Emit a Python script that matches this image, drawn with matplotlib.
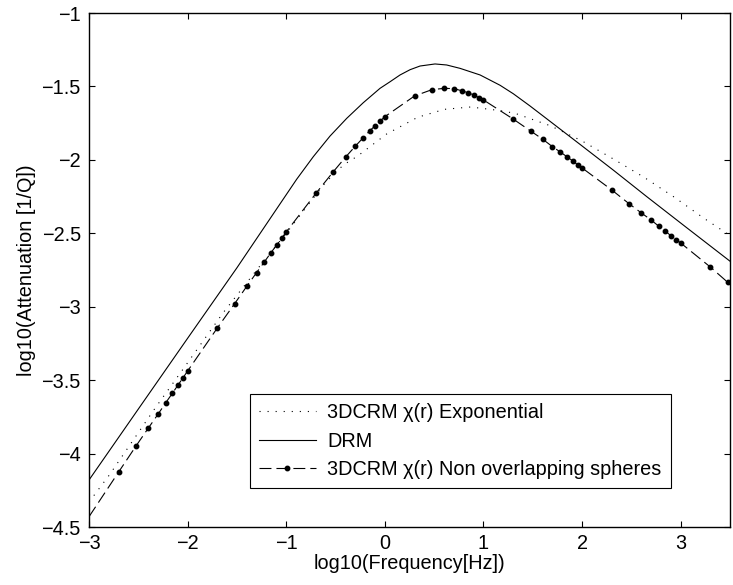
import numpy as np
import matplotlib
matplotlib.use("Agg")
import matplotlib.pyplot as plt

plt.rcParams['font.family'] = ['Liberation Sans', 'DejaVu Sans']
plt.rcParams['lines.scale_dashes'] = False

# --- DRM model (solid) : log10 frequency vs log10 attenuation
drm_logf = [-3.0, -2.5, -2.0, -1.5, -1.063, -0.894, -0.725, -0.556, -0.386,
            -0.219, -0.049, 0.053, 0.154, 0.256, 0.357, 0.509, 0.627, 0.763,
            0.966, 1.168, 1.303, 1.47, 1.641, 1.98, 2.317, 2.655, 3.061, 3.5]
drm_att = [-4.18, -3.697, -3.215, -2.735, -2.30, -2.132, -1.978, -1.838, -1.717,
           -1.611, -1.513, -1.468, -1.422, -1.386, -1.361, -1.347, -1.354, -1.377,
           -1.422, -1.492, -1.550, -1.632, -1.72, -1.895, -2.07, -2.25, -2.462,
           -2.690]

# --- 3DCRM, exponential correlation function (dotted)
exp_logf = [-3.0, -2.794, -2.686, -2.331, -2.009, -1.644, -1.3, -1.0, -0.793,
            -0.6, -0.421, -0.276, 0.018, 0.333, 0.604, 0.87, 1.151, 1.32,
            1.675, 1.996, 2.317, 2.629, 2.937, 3.236, 3.5]
exp_att = [-4.33, -4.146, -4.04, -3.692, -3.39, -3.045, -2.75, -2.50, -2.319,
           -2.153, -2.035, -1.974, -1.824, -1.710, -1.656, -1.640, -1.663, -1.683,
           -1.767, -1.870, -1.994, -2.119, -2.255, -2.398, -2.515]

# --- 3DCRM, non overlapping spheres (dashed with markers)
sph_freq = [0.002, 0.003, 0.004, 0.005, 0.006, 0.007, 0.008, 0.009,
            0.01, 0.02, 0.03, 0.04, 0.05, 0.06, 0.07, 0.08, 0.09,
            0.1, 0.2, 0.3, 0.4, 0.5, 0.6, 0.7, 0.8, 0.9,
            1, 2, 3, 4, 5, 6, 7, 8, 9,
            10, 20, 30, 40, 50, 60, 70, 80, 90,
            100, 200, 300, 400, 500, 600, 700, 800, 900,
            1000, 2000, 3000]
sph_att = [-4.125, -3.948, -3.826, -3.733, -3.654, -3.590, -3.533, -3.483,
           -3.438, -3.145, -2.979, -2.859, -2.768, -2.695, -2.632, -2.580, -2.532,
           -2.491, -2.228, -2.081, -1.981, -1.908, -1.851, -1.803, -1.767, -1.735,
           -1.706, -1.565, -1.522, -1.513, -1.515, -1.529, -1.543, -1.558, -1.577,
           -1.592, -1.722, -1.803, -1.860, -1.910, -1.946, -1.978, -2.006, -2.033,
           -2.055, -2.205, -2.299, -2.362, -2.409, -2.452, -2.486, -2.518, -2.544,
           -2.566, -2.730, -2.834]
# curve values where it meets the left and right axis limits
sph_edge_logf = [-3.0, 3.5]
sph_edge_att = [-4.43, -2.848]

xtick_vals = [-3, -2, -1, 0, 1, 2, 3]
xtick_labels = ['\u22123', '\u22122', '\u22121', '0', '1', '2', '3']
ytick_vals = [-4.5, -4, -3.5, -3, -2.5, -2, -1.5, -1]
ytick_labels = ['\u22124.5', '\u22124', '\u22123.5', '\u22123', '\u22122.5',
                '\u22122', '\u22121.5', '\u22121']

labels = ['3DCRM \u03c7(r) Exponential', 'DRM',
          '3DCRM \u03c7(r) Non overlapping spheres']

FS = 14.3

fig = plt.figure(figsize=(7.33, 5.85), dpi=100)
fig.patch.set_facecolor('white')
ax = fig.add_axes([89 / 733, 58 / 585, (730 - 89) / 733, (527 - 13) / 585])

ax.plot(exp_logf, exp_att, color='black', lw=0.8, dashes=(0.8, 5.0),
        dash_capstyle='butt', label=labels[0])
ax.plot(drm_logf, drm_att, color='black', lw=0.8, label=labels[1])

sph_x = [sph_edge_logf[0]] + list(np.log10(sph_freq)) + [sph_edge_logf[1]]
sph_y = [sph_edge_att[0]] + sph_att + [sph_edge_att[1]]
ax.plot(sph_x, sph_y, color='black', lw=0.8, dashes=(8.6, 3.6),
        marker='o', markersize=3.2, markevery=list(range(1, len(sph_x) - 1)),
        label=labels[2])

ax.set_xlim(-3, 3.5)
ax.set_ylim(-4.5, -1)
ax.set_xticks(xtick_vals)
ax.set_xticklabels(xtick_labels)
ax.set_yticks(ytick_vals)
ax.set_yticklabels(ytick_labels)
ax.tick_params(direction='in', top=True, right=True, length=4.3, width=0.8,
               labelsize=FS)
ax.tick_params(axis='x', pad=5)
ax.tick_params(axis='y', pad=6)
for s in ax.spines.values():
    s.set_linewidth(1.0)

ax.set_xlabel('log10(Frequency[Hz])', fontsize=FS, labelpad=1)
ax.set_ylabel('log10(Attenuation [1/Q])', fontsize=FS, labelpad=4)

leg = ax.legend(loc='upper left', bbox_to_anchor=(250 / 733, 1 - 394 / 585),
                bbox_transform=fig.transFigure, borderaxespad=0,
                fontsize=FS, handlelength=2.85, handletextpad=0.6,
                labelspacing=0.49, borderpad=0.45, numpoints=1,
                fancybox=False, framealpha=1, edgecolor='black')
leg.get_frame().set_linewidth(0.8)

fig.savefig('out.png', dpi=100, facecolor='white')
